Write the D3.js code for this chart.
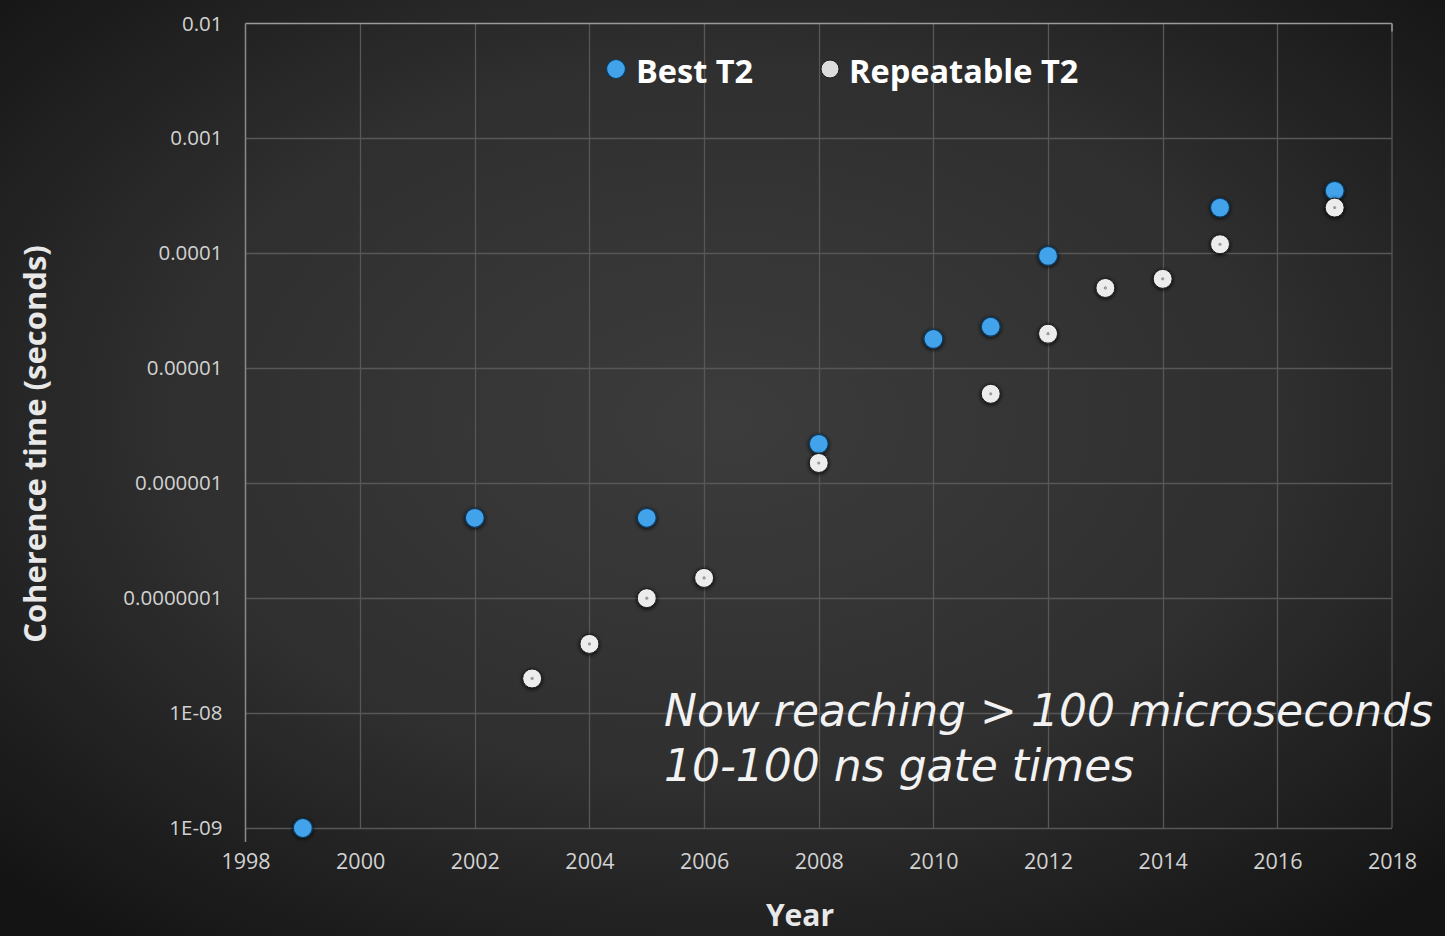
<!DOCTYPE html>
<html>
<head>
<meta charset="utf-8">
<script src="https://cdn.jsdelivr.net/npm/d3@7/dist/d3.min.js"></script>
<style>
  html, body { margin: 0; padding: 0; background: #1a1a1a; }
  svg { display: block; }
</style>
</head>
<body>
<svg id="chart" width="1445" height="936"></svg>
<script>
// Coherence time records by year (seconds)
const bestYears = [1999, 2002, 2005, 2008, 2010, 2011, 2012, 2015, 2017];
const bestValues = [1e-9, 5e-7, 5e-7, 2.2e-6, 1.8e-5, 2.3e-5, 9.5e-5, 2.5e-4, 3.5e-4];

const repeatYears = [2003, 2004, 2005, 2006, 2008, 2011, 2012, 2013, 2014, 2015, 2017];
const repeatValues = [2e-8, 4e-8, 1e-7, 1.5e-7, 1.5e-6, 6e-6, 2e-5, 5e-5, 6e-5, 1.2e-4, 2.5e-4];

const xTicks = [1998, 2000, 2002, 2004, 2006, 2008, 2010, 2012, 2014, 2016, 2018];
const yTicks = [1e-9, 1e-8, 1e-7, 1e-6, 1e-5, 1e-4, 1e-3, 1e-2];
const yTickLabels = ["1E-09", "1E-08", "0.0000001", "0.000001", "0.00001", "0.0001", "0.001", "0.01"];

const seriesNames = ["Best T2", "Repeatable T2"];
const noteLines = ["Now reaching > 100 microseconds", "10-100 ns gate times"];

const W = 1445, H = 936;
const svg = d3.select("#chart");

// Background: dark radial vignette
const defs = svg.append("defs");
const bg = defs.append("radialGradient").attr("id", "bg")
  .attr("cx", "50%").attr("cy", "45%").attr("r", "70%");
bg.append("stop").attr("offset", "0%").attr("stop-color", "#3c3c3c");
bg.append("stop").attr("offset", "55%").attr("stop-color", "#2f2f2f");
bg.append("stop").attr("offset", "100%").attr("stop-color", "#141414");
svg.append("rect").attr("width", W).attr("height", H).attr("fill", "url(#bg)");

// Soft drop shadow for markers
const sh = defs.append("filter").attr("id", "shadow")
  .attr("x", "-60%").attr("y", "-60%").attr("width", "220%").attr("height", "220%");
sh.append("feGaussianBlur").attr("in", "SourceAlpha").attr("stdDeviation", 2).attr("result", "b");
sh.append("feOffset").attr("in", "b").attr("dx", 0).attr("dy", 1).attr("result", "o");
sh.append("feComponentTransfer").attr("in", "o").attr("result", "s")
  .append("feFuncA").attr("type", "linear").attr("slope", 0.9);
const m = sh.append("feMerge");
m.append("feMergeNode").attr("in", "s");
m.append("feMergeNode").attr("in", "SourceGraphic");

const plot = { left: 245.5, right: 1392, top: 23.5, bottom: 828 };

const x = d3.scaleLinear().domain([1998, 2018]).range([plot.left, plot.right]);
const y = d3.scaleLog().domain([1e-9, 1e-2]).range([plot.bottom, plot.top]);

const labelFont = "'Open Sans', 'Liberation Sans', sans-serif";

// Grid lines
const grid = svg.append("g");
grid.selectAll("line.v").data(xTicks.filter(t => t > 1998 && t < 2018)).join("line")
  .attr("x1", d => Math.round(x(d)) + 0.5).attr("x2", d => Math.round(x(d)) + 0.5)
  .attr("y1", plot.top).attr("y2", plot.bottom)
  .attr("stroke", "#575757").attr("stroke-width", 1.3);
grid.selectAll("line.h").data(yTicks.filter(t => t < 1e-2)).join("line")
  .attr("x1", plot.left).attr("x2", plot.right)
  .attr("y1", d => Math.round(y(d)) + 0.5).attr("y2", d => Math.round(y(d)) + 0.5)
  .attr("stroke", "#575757").attr("stroke-width", 1.3);

// Frame: top and sides
svg.append("line").attr("x1", plot.left).attr("x2", plot.right)
  .attr("y1", plot.top).attr("y2", plot.top)
  .attr("stroke", "#9a9a9a").attr("stroke-width", 1.5);
svg.append("line").attr("x1", plot.left).attr("x2", plot.left)
  .attr("y1", plot.top).attr("y2", plot.bottom + 14)
  .attr("stroke", "#8a8a8a").attr("stroke-width", 1.5);
svg.append("line").attr("x1", plot.right).attr("x2", plot.right)
  .attr("y1", plot.top).attr("y2", plot.bottom)
  .attr("stroke", "#555555").attr("stroke-width", 1.3);
svg.append("line").attr("x1", plot.right).attr("x2", plot.right)
  .attr("y1", plot.top).attr("y2", plot.top + 8)
  .attr("stroke", "#9a9a9a").attr("stroke-width", 1.5);

// Axes (labels only; frame drawn above)
const xAxis = d3.axisBottom(x).tickValues(xTicks).tickFormat(d3.format("d")).tickSize(0).tickPadding(0);
const gx = svg.append("g").attr("transform", `translate(0, ${plot.bottom + 33})`).call(xAxis);
gx.select(".domain").remove();
gx.selectAll("text").attr("fill", "#d2d2d2").attr("font-family", labelFont)
  .attr("font-size", 21.5).attr("dy", "0.36em");

const yAxis = d3.axisLeft(y).tickValues(yTicks)
  .tickFormat(d => yTickLabels[yTicks.indexOf(d)]).tickSize(0).tickPadding(0);
const gy = svg.append("g").attr("transform", `translate(${plot.left - 23}, 0)`).call(yAxis);
gy.select(".domain").remove();
gy.selectAll("text").attr("fill", "#d2d2d2").attr("font-family", labelFont)
  .attr("font-size", 20.5);

// Axis titles
svg.append("text").attr("x", 800).attr("y", 926)
  .attr("text-anchor", "middle").attr("fill", "#e8e8e8")
  .attr("font-family", labelFont).attr("font-weight", "bold").attr("font-size", 30)
  .text("Year");
svg.append("text").attr("transform", `translate(46, 444) rotate(-90)`)
  .attr("text-anchor", "middle").attr("fill", "#e8e8e8")
  .attr("font-family", labelFont).attr("font-weight", "bold").attr("font-size", 31)
  .text("Coherence time (seconds)");

const blue = "#43a3ea";
const white = "#ececec";
const R = 9.5;

const best = bestYears.map((yr, i) => ({ yr, v: bestValues[i] }));
const rep = repeatYears.map((yr, i) => ({ yr, v: repeatValues[i] }));

// Best T2 markers
svg.append("g").selectAll("circle").data(best).join("circle")
  .attr("cx", d => x(d.yr)).attr("cy", d => y(d.v)).attr("r", R)
  .attr("fill", blue).attr("stroke", "#0d3a5e").attr("stroke-width", 1.2)
  .attr("filter", "url(#shadow)");

// Repeatable T2 markers
const gr = svg.append("g");
gr.selectAll("circle").data(rep).join("circle")
  .attr("cx", d => x(d.yr)).attr("cy", d => y(d.v)).attr("r", R)
  .attr("fill", white).attr("stroke", "#1a1a1a").attr("stroke-width", 1)
  .attr("filter", "url(#shadow)");
gr.selectAll("circle.c").data(rep).join("circle").attr("class", "c")
  .attr("cx", d => x(d.yr)).attr("cy", d => y(d.v)).attr("r", 1.6)
  .attr("fill", "#9a9a9a");

// Legend
const legend = svg.append("g").attr("font-family", labelFont).attr("font-weight", "bold")
  .attr("font-size", 32.5).attr("fill", "#ffffff");
legend.append("circle").attr("cx", 616).attr("cy", 69).attr("r", 9.5)
  .attr("fill", blue).attr("stroke", "#0d3a5e").attr("stroke-width", 1.2);
legend.append("text").attr("x", 636).attr("y", 83).text(seriesNames[0]);
legend.append("circle").attr("cx", 830).attr("cy", 69).attr("r", 9)
  .attr("fill", "#dcdcdc").attr("stroke", "#1a1a1a");
legend.append("text").attr("x", 849).attr("y", 83).text(seriesNames[1]);

// Annotation
const note = svg.append("g").attr("font-family", "'DejaVu Sans', sans-serif")
  .attr("font-style", "italic").attr("font-size", 44).attr("fill", "#f2f2f2");
noteLines.forEach((t, i) => {
  note.append("text").attr("x", 664).attr("y", 726 + i * 55).text(t);
});
</script>
</body>
</html>
